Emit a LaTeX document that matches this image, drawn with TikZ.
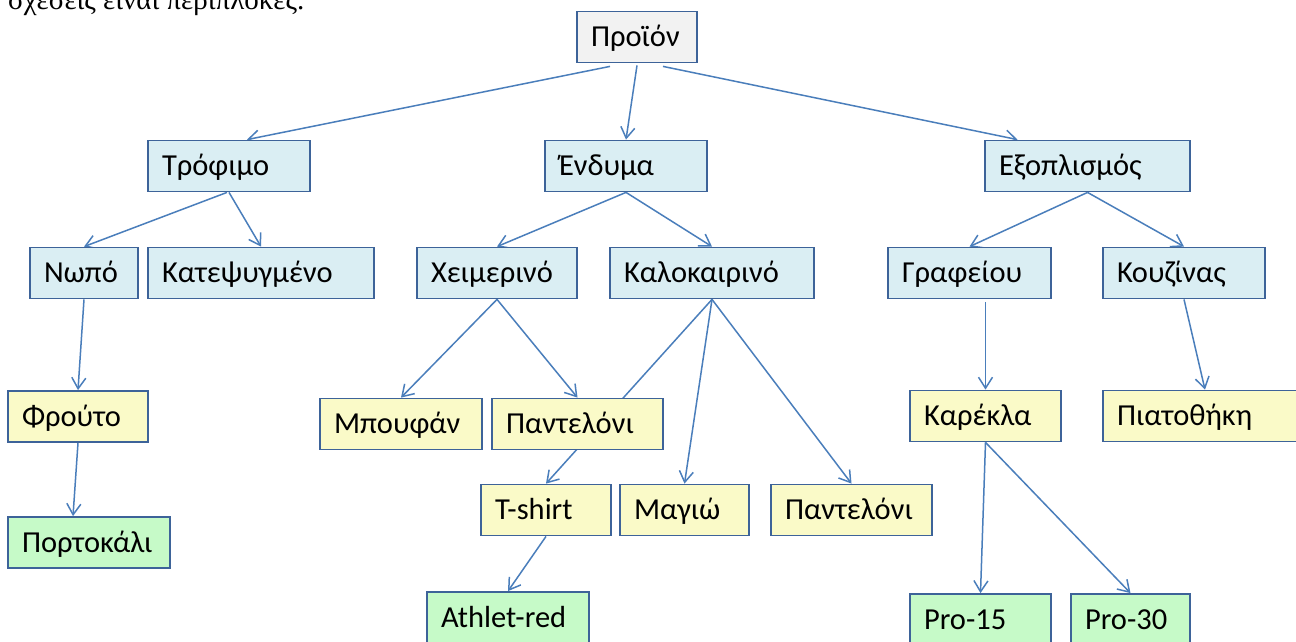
\documentclass[tikz,border=0pt]{standalone}
\usepackage{fontspec}
\setmainfont{Carlito}
\newfontfamily\capfont{Liberation Serif}
\usetikzlibrary{calc,arrows.meta}
\pgfdeclarelayer{bg}
\pgfdeclarelayer{edges}
\pgfsetlayers{bg,edges,main}
\definecolor{boxline}{HTML}{3D6399}
\definecolor{edgeblue}{HTML}{4A7EBB}
\definecolor{rootfill}{HTML}{F2F2F2}
\definecolor{catfill}{HTML}{DAEEF3}
\definecolor{subfill}{HTML}{FAFAC8}
\definecolor{itemfill}{HTML}{C6FAC8}
\tikzset{
  box/.style={rectangle, draw=boxline, line width=1.8pt, inner xsep=14pt, inner ysep=0pt,
    minimum height=51pt, text height=19.5pt, text depth=0pt, align=left,
    font=\fontsize{30.5}{36}\selectfont, execute at begin node={\hyphenpenalty=10000}},
  rootbox/.style={box, fill=rootfill},
  catbox/.style={box, fill=catfill},
  subbox/.style={box, fill=subfill},
  itembox/.style={box, fill=itemfill},
  link/.style={draw=edgeblue, line width=1.5pt, -{Straight Barb[length=11pt,width=14pt]}},
}
\begin{document}
\begin{tikzpicture}[x=1pt,y=-1pt]
\begin{pgfonlayer}{bg}
  \fill[white] (0,0) rectangle (1296,641);
\end{pgfonlayer}
\clip (0,0) rectangle (1296,641);

% caption line above the tree, cut by the top edge
\node[anchor=base west, inner sep=0pt, font=\capfont\fontsize{29}{33}\selectfont] (cap) at (8,9) {σχέσεις είναι περίπλοκες.};

% level 0
\node[rootbox, text width=92pt] (prod) at (637,37) {Προϊόν};

% level 1
\node[catbox, text width=134pt] (food)  at (229,166)   {Τρόφιμο};
\node[catbox, text width=134pt] (cloth) at (626,166)   {Ένδυμα};
\node[catbox, text width=177pt] (equip) at (1087.5,166) {Εξοπλισμός};

% level 2
\node[catbox, text width=80pt]  (fresh)   at (84,273)     {Νωπό};
\node[catbox, text width=198pt] (frozen)  at (261,273)    {Κατεψυγμένο};
\node[catbox, text width=132pt] (winter)  at (497,273)    {Χειμερινό};
\node[catbox, text width=176pt] (summer)  at (712,273)    {Καλοκαιρινό};
\node[catbox, text width=135pt] (office)  at (969.5,273)  {Γραφείου};
\node[catbox, text width=134pt] (kitchen) at (1184,273)   {Κουζίνας};

% level 3
\node[subbox, text width=112pt] (fruit)     at (78,416.5)   {Φρούτο};
\node[subbox, text width=134pt] (jacket)    at (401,424)    {Μπουφάν};
\node[subbox, text width=143pt] (trousersA) at (577.5,424)  {Παντελόνι};
\node[subbox, text width=123pt] (chair)     at (985.5,416)  {Καρέκλα};
\node[subbox, text width=176pt] (rack)      at (1205,416)   {Πιατοθήκη};
\node[subbox, text width=102pt] (tshirt)    at (546,510)    {T-shirt};
\node[subbox, text width=101pt] (swim)      at (684.5,510)  {Μαγιώ};
\node[subbox, text width=133pt] (trousersB) at (851.5,510)  {Παντελόνι};

% level 4
\node[itembox, text width=134pt] (orange) at (89,542.5)    {Πορτοκάλι};
\node[itembox, text width=134pt] (athlet) at (508,617.5)   {Athlet-red};
\node[itembox, text width=113pt] (pro15)  at (980.5,619.5) {Pro-15};
\node[itembox, text width=91pt]  (pro30)  at (1130.5,619.5) {Pro-30};

% connectors, kept under the boxes
\begin{pgfonlayer}{edges}
  \draw[link] ($(prod.south)+(-27,3)$) -- ($(food.north)+(18,0)$);
  \draw[link] ($(prod.south)+(0,2)$)   -- (cloth.north);
  \draw[link] ($(prod.south)+(26,3)$)  -- ($(equip.north)+(-70,0)$);

  \draw[link] ($(food.south)+(-2,0)$) -- (fresh.north);
  \draw[link] (food.south) -- (frozen.north);
  \draw[link] (cloth.south) -- (winter.north);
  \draw[link] (cloth.south) -- (summer.north);
  \draw[link] (equip.south) -- (office.north);
  \draw[link] (equip.south) -- (kitchen.north);

  \draw[link] (fresh.south) -- (fruit.north);
  \draw[link] (fruit.south) -- ($(orange.north)+(-16,0)$);

  \draw[link] (winter.south) -- (jacket.north);
  \draw[link] (winter.south) -- (trousersA.north);
  \draw[link] (summer.south) -- (tshirt.north);
  \draw[link] (summer.south) -- (swim.north);
  \draw[link] (summer.south) -- (trousersB.north);
  \draw[link] (tshirt.south) -- (athlet.north);

  \draw[link] ($(office.south -| chair.north)+(0,3)$) -- (chair.north);
  \draw[link] (kitchen.south) -- (rack.north);
  \draw[link] (chair.south) -- (pro15.north);
  \draw[link] (chair.south) -- (pro30.north);
\end{pgfonlayer}
\end{tikzpicture}
\end{document}
